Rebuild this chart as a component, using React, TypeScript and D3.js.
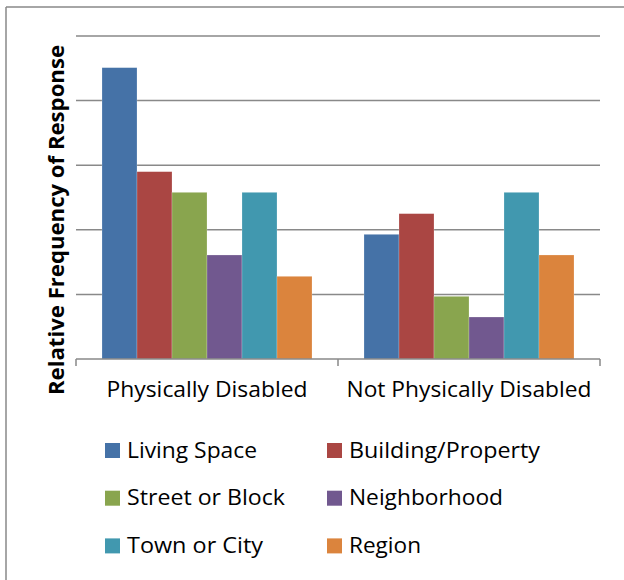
import React from "react";
import * as d3 from "d3";

const categories = ["Physically Disabled", "Not Physically Disabled"];
const series = ["Living Space", "Building/Property", "Street or Block", "Neighborhood", "Town or City", "Region"];
const colors = ["#4572A7", "#AA4643", "#89A54E", "#71588F", "#4198AF", "#DB843D"];
const physicallyDisabled = [0.2255, 0.145, 0.129, 0.0805, 0.129, 0.064];
const notPhysicallyDisabled = [0.0965, 0.1125, 0.0485, 0.0325, 0.129, 0.0805];
const yTicks = [0.05, 0.1, 0.15, 0.2, 0.25];

const values = [physicallyDisabled, notPhysicallyDisabled];

const FONT = "'Open Sans', 'Noto Sans', sans-serif";

export default function App() {
  const left = 76, right = 600, top = 36, bottom = 359;
  const x0 = d3.scaleBand<string>().domain(categories).range([left, right]).padding(0);
  const x1 = d3.scaleBand<string>().domain(series).range([26, x0.bandwidth() - 26]).padding(0);
  const y = d3.scaleLinear().domain([0, 0.25]).range([bottom, top]);
  const grey = "#898989";

  const catWidths = [201, 245];
  const legendWidths = [130, 191, 158, 154, 136, 72];

  return (
    <svg width={624} height={580} style={{ position: "absolute", left: 0, top: 0, background: "#fff" }}>
      <rect x={0} y={0} width={624} height={580} fill="#fff" />
      <line x1={6} y1={7} x2={624} y2={7} stroke={grey} strokeWidth={1.5} />
      <line x1={6} y1={7} x2={6} y2={580} stroke={grey} strokeWidth={1.5} />
      {yTicks.map((t) => (
        <line key={t} x1={left} x2={right} y1={y(t)} y2={y(t)} stroke={grey} strokeWidth={1.5} />
      ))}
      {categories.map((c, ci) => (
        <g key={c} transform={`translate(${x0(c)},0)`}>
          {series.map((s, si) => (
            <rect
              key={s}
              x={x1(s)}
              y={y(values[ci][si])}
              width={x1.bandwidth()}
              height={y(0) - y(values[ci][si])}
              fill={colors[si]}
              stroke="#ffffff"
              strokeOpacity={0.35}
              strokeWidth={0.6}
            />
          ))}
        </g>
      ))}
      <line x1={left} x2={right} y1={bottom} y2={bottom} stroke={grey} strokeWidth={1.5} />
      {[left, ...categories.map((c) => (x0(c) as number) + x0.bandwidth())].map((xx, i) => (
        <line key={i} x1={xx} x2={xx} y1={bottom} y2={bottom + 7} stroke={grey} strokeWidth={1.5} />
      ))}
      {categories.map((c, ci) => (
        <text
          key={c}
          x={(x0(c) as number) + x0.bandwidth() / 2}
          y={397}
          textAnchor="middle"
          fontFamily={FONT}
          fontSize={22}
          fill="#000"
          textLength={catWidths[ci]}
          lengthAdjust="spacingAndGlyphs"
        >
          {c}
        </text>
      ))}
      <text
        transform={`translate(64,220) rotate(-90)`}
        textAnchor="middle"
        fontFamily={FONT}
        fontWeight="bold"
        fontSize={21}
        fill="#000"
        textLength={350}
        lengthAdjust="spacingAndGlyphs"
      >
        Relative Frequency of Response
      </text>
      {series.map((s, i) => {
        const col = i % 2;
        const row = Math.floor(i / 2);
        const sx = col === 0 ? 105 : 327;
        const sy = 443 + row * 47.7;
        return (
          <g key={s}>
            <rect x={sx} y={sy} width={15} height={15} fill={colors[i]} />
            <text
              x={sx + 22}
              y={sy + 14.5}
              fontFamily={FONT}
              fontSize={22}
              fill="#000"
              textLength={legendWidths[i]}
              lengthAdjust="spacingAndGlyphs"
            >
              {s}
            </text>
          </g>
        );
      })}
    </svg>
  );
}
